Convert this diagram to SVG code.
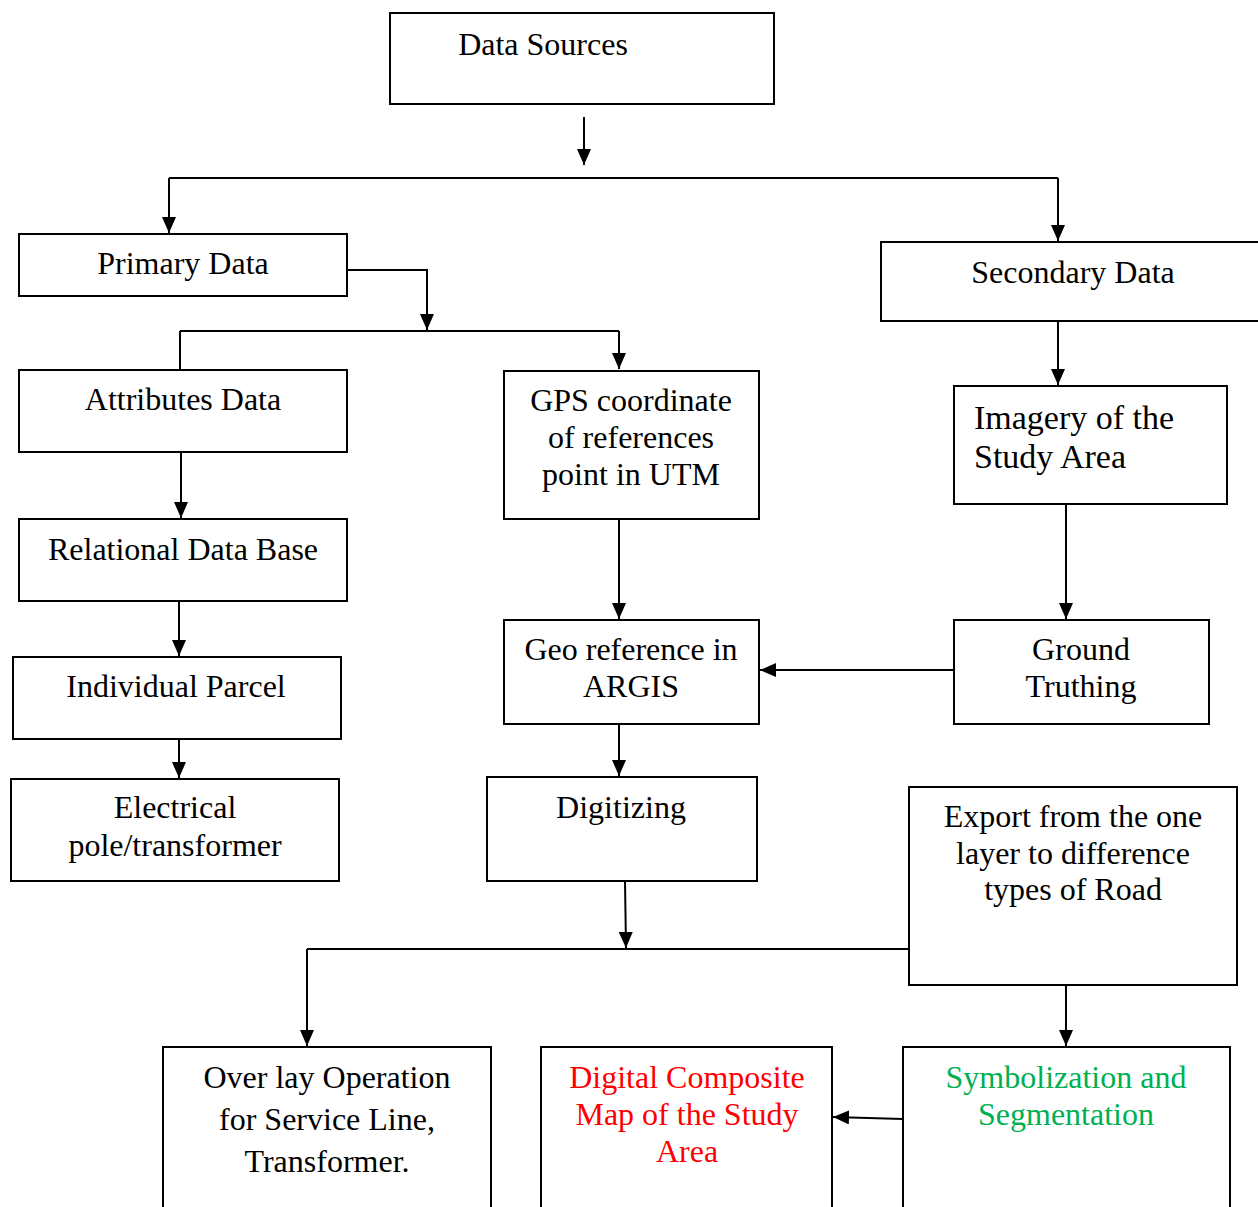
<svg xmlns="http://www.w3.org/2000/svg" width="1258" height="1207" viewBox="0 0 1258 1207">
<defs>
<marker id="ah" markerUnits="userSpaceOnUse" markerWidth="17" markerHeight="14" refX="16" refY="7" orient="auto">
<path d="M0,0 L16,7 L0,14 z" fill="#000"/>
</marker>
<style>
.box{fill:#fff;stroke:#000;stroke-width:2}
.t{font-family:"Liberation Serif","Times New Roman",serif;font-size:32px;fill:#000;text-anchor:middle}
.big{font-size:34px}
.l{text-anchor:start}
.red{fill:#ff0000}
.green{fill:#00b050}
.c{fill:none;stroke:#000;stroke-width:2}
.a{marker-end:url(#ah)}
</style>
</defs>
<rect width="1258" height="1207" fill="#fff"/>
<g id="connectors">
<path class="c a" d="M584,117 V165"/>
<path class="c" d="M169,178 H1058"/>
<path class="c a" d="M169,178 V233"/>
<path class="c a" d="M1058,178 V241"/>
<path class="c a" d="M347,270 H427 V330"/>
<path class="c" d="M180,331 H619"/>
<path class="c" d="M180,331 V370"/>
<path class="c a" d="M619,331 V369"/>
<path class="c a" d="M1058,321 V385"/>
<path class="c a" d="M1066,504 V619"/>
<path class="c a" d="M954,670 H760"/>
<path class="c a" d="M181,452 V518"/>
<path class="c a" d="M179,601 V656"/>
<path class="c a" d="M179,739 V778"/>
<path class="c a" d="M619,519 V619"/>
<path class="c a" d="M619,724 V776"/>
<path class="c a" d="M625,881 L626,948"/>
<path class="c" d="M307,949 H909"/>
<path class="c a" d="M307,949 V1046"/>
<path class="c a" d="M1066,985 V1046"/>
<path class="c a" d="M903,1119 L833,1117"/>
</g>
<g id="data-sources">
<rect class="box" x="390" y="13" width="384" height="91"/>
<text class="t" x="543" y="55">Data Sources</text>
</g>
<g id="primary-data">
<rect class="box" x="19" y="234" width="328" height="62"/>
<text class="t" x="183" y="274">Primary Data</text>
</g>
<g id="secondary-data">
<rect class="box" x="881" y="242" width="380" height="79"/>
<text class="t" x="1073" y="283">Secondary Data</text>
</g>
<g id="attributes-data">
<rect class="box" x="19" y="370" width="328" height="82"/>
<text class="t" x="183" y="410">Attributes Data</text>
</g>
<g id="gps">
<rect class="box" x="504" y="371" width="255" height="148"/>
<text class="t" x="631" y="411">GPS coordinate</text>
<text class="t" x="631" y="448">of references</text>
<text class="t" x="631" y="485">point in UTM</text>
</g>
<g id="imagery">
<rect class="box" x="954" y="386" width="273" height="118"/>
<text class="t big l" x="974" y="429">Imagery of the</text>
<text class="t big l" x="974" y="468">Study Area</text>
</g>
<g id="relational">
<rect class="box" x="19" y="519" width="328" height="82"/>
<text class="t" x="183" y="560">Relational Data Base</text>
</g>
<g id="individual-parcel">
<rect class="box" x="13" y="657" width="328" height="82"/>
<text class="t" x="176" y="697">Individual Parcel</text>
</g>
<g id="geo-reference">
<rect class="box" x="504" y="620" width="255" height="104"/>
<text class="t" x="631" y="660">Geo reference in</text>
<text class="t" x="631" y="697">ARGIS</text>
</g>
<g id="ground-truthing">
<rect class="box" x="954" y="620" width="255" height="104"/>
<text class="t" x="1081" y="660">Ground</text>
<text class="t" x="1081" y="697">Truthing</text>
</g>
<g id="electrical">
<rect class="box" x="11" y="779" width="328" height="102"/>
<text class="t" x="175" y="818">Electrical</text>
<text class="t" x="175" y="856">pole/transformer</text>
</g>
<g id="digitizing">
<rect class="box" x="487" y="777" width="270" height="104"/>
<text class="t" x="621" y="818">Digitizing</text>
</g>
<g id="export">
<rect class="box" x="909" y="787" width="328" height="198"/>
<text class="t" x="1073" y="827">Export from the one</text>
<text class="t" x="1073" y="864">layer to difference</text>
<text class="t" x="1073" y="900">types of Road</text>
</g>
<g id="overlay">
<rect class="box" x="163" y="1047" width="328" height="180"/>
<text class="t" x="327" y="1088">Over lay Operation</text>
<text class="t" x="327" y="1130">for Service Line,</text>
<text class="t" x="327" y="1172">Transformer.</text>
</g>
<g id="digital-composite">
<rect class="box" x="541" y="1047" width="291" height="180"/>
<text class="t red" x="687" y="1088">Digital Composite</text>
<text class="t red" x="687" y="1125">Map of the Study</text>
<text class="t red" x="687" y="1162">Area</text>
</g>
<g id="symbolization">
<rect class="box" x="903" y="1047" width="327" height="180"/>
<text class="t green" x="1066" y="1088">Symbolization and</text>
<text class="t green" x="1066" y="1125">Segmentation</text>
</g>
</svg>
